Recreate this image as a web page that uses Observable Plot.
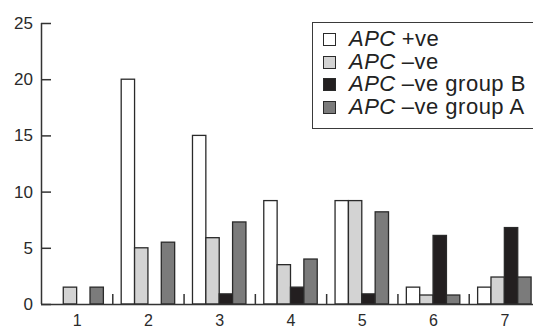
<!DOCTYPE html>
<html>
<head>
<meta charset="utf-8">
<script src="https://cdn.jsdelivr.net/npm/d3@7"></script>
<script src="https://cdn.jsdelivr.net/npm/@observablehq/plot@0.6"></script>
<style>
  html, body { margin: 0; padding: 0; background: #fff; overflow: hidden; }
  #wrap { position: relative; width: 533px; height: 329px; overflow: hidden; }
  #legend {
    position: absolute; left: 312px; top: 22px; width: 240px; height: 100px;
    border: 1.5px solid #3a3a3a; box-sizing: content-box;
    font-family: "Liberation Sans", Arial, sans-serif; font-size: 22px; color: #222;
    letter-spacing: 0.5px;
    padding-top: 5px;
  }
  #legend .row { display: flex; align-items: center; height: 22.7px; line-height: 22.7px; white-space: nowrap; }
  #legend .sw { flex: none; width: 11px; height: 11px; border: 1.3px solid #2a2a2a; margin-left: 10px; margin-right: 13px; }
  #legend i { font-style: italic; margin-right: 6px; }
</style>
</head>
<body>
<div id="wrap"></div>
<script>
// ---- data ----
const categories = [1, 2, 3, 4, 5, 6, 7];
const seriesNames = ["APC +ve", "APC \u2013ve", "APC \u2013ve group B", "APC \u2013ve group A"];
const seriesColors = ["#ffffff", "#d3d3d3", "#231f20", "#7b7b7b"];
const apcPos    = [0, 20, 15, 9.2, 9.2, 1.5, 1.5];
const apcNeg    = [1.5, 5, 5.9, 3.5, 9.2, 0.8, 2.4];
const apcNegB   = [0, 0, 0.9, 1.5, 0.9, 6.1, 6.8];
const apcNegA   = [1.5, 5.5, 7.3, 4.0, 8.2, 0.8, 2.4];
const yTicks = [0, 5, 10, 15, 20, 25];

const seriesValues = [apcPos, apcNeg, apcNegB, apcNegA];
const groupWidth = 0.75;          // fraction of a category step taken by the 4 bars
const barW = groupWidth / seriesNames.length;

const rows = [];
categories.forEach((c, i) => {
  seriesValues.forEach((vals, s) => {
    const x1 = c - groupWidth / 2 + s * barW;
    rows.push({cat: c, series: seriesNames[s], value: vals[i], x1, x2: x1 + barW});
  });
});
const separators = categories.slice(1).map(c => c - 0.5);

const font = "'Liberation Sans', Arial, sans-serif";

const chart = Plot.plot({
  width: 533,
  height: 329,
  marginLeft: 41,
  marginRight: 0,
  marginTop: 23,
  marginBottom: 25,
  style: {fontFamily: font, background: "#fff", color: "#222"},
  x: {type: "linear", domain: [0.5, 7.5], range: [41, 540], axis: null},
  y: {domain: [0, 25], axis: null},
  color: {domain: seriesNames, range: seriesColors},
  marks: [
    Plot.rectY(rows, {
      filter: d => d.value > 0,
      x1: "x1", x2: "x2", y1: 0, y2: "value",
      fill: "series", stroke: "#2a2a2a", strokeWidth: 1.3
    }),
    Plot.ruleY([0], {stroke: "#333", strokeWidth: 1.5}),
    Plot.ruleX([0.5], {y1: 0, y2: 25, stroke: "#333", strokeWidth: 1.5}),
    Plot.axisY(yTicks, {
      anchor: "left", label: null, tickSize: 10, dx: 10, tickPadding: 8.5,
      stroke: "#333", strokeWidth: 1.5,
      fontSize: 17, fill: "#2a2a2a"
    }),
    Plot.axisX(separators, {
      anchor: "bottom", label: null, tickSize: 10, dy: -10, text: null,
      stroke: "#333", strokeWidth: 1.5
    }),
    Plot.axisX(categories, {
      anchor: "bottom", label: null, tickSize: 0, tickPadding: 10,
      fontSize: 16, fill: "#2a2a2a"
    })
  ]
});

const wrap = document.getElementById("wrap");
wrap.appendChild(chart);

// legend
const legend = d3.select(wrap).append("div").attr("id", "legend");
seriesNames.forEach((name, i) => {
  const row = legend.append("div").attr("class", "row");
  row.append("span").attr("class", "sw").style("background", seriesColors[i]);
  const rest = name.replace(/^APC\s*/, "");
  row.append("i").text("APC");
  row.append("span").text(rest);
});
</script>
</body>
</html>
